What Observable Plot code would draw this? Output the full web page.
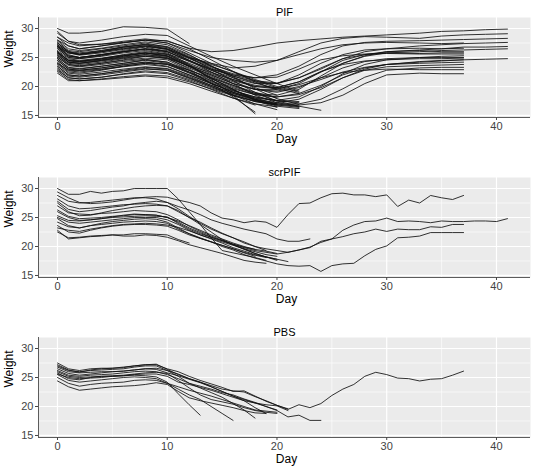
<!DOCTYPE html>
<html>
<head>
<meta charset="utf-8">
<script src="https://cdn.jsdelivr.net/npm/d3@7"></script>
<script src="https://cdn.jsdelivr.net/npm/@observablehq/plot@0.6"></script>
<style>
  html, body { margin: 0; padding: 0; background: white; }
  #chart svg { display: block; }
</style>
</head>
<body>
<div id="chart"></div>
<script>
// ---- data ----
const panelTitles = ["PIF", "scrPIF", "PBS"];
const xMajor = [0, 10, 20, 30, 40];
const xMinor = [5, 15, 25, 35];
const yMajor = [15, 20, 25, 30];
const yMinor = [17.5, 22.5, 27.5];

// PIF: weights sampled on these days
const pifDays = [0,1,2,4,6,8,10,12,14,16,18,20,22,24,26,28,30,33,35,37,39,41];
const pifWeights = [
  [28.5,27.5,27,27.3,27.8,28.2,27.8,26.6,26,26.2,26.8,27.5,27.9,28.2,28.5,28.7,28.9,29.2,29.5,29.6,29.8,29.9],
  [27.5,26,25.5,26,26.8,27.2,26.5,25,24,23.2,23.5,24.5,26,27.5,28.3,28.6,28.5,28.3,28.7,28.9,29,29.1],
  [26.8,25.2,25,25.5,26.2,26.8,26,24.5,23,22,21.5,22,23.5,25.5,27,27.6,27.8,27.9,28,28.1,28.2,28.3],
  [27,25.5,25,25.5,26,26.5,26.2,24.8,23.2,21.8,20.8,20.5,21.5,23,24.8,26,26.5,27,27.2,27.4,27.5,27.6],
  [25.5,24.2,24,24.5,25.2,25.8,25.2,23.5,22,20.5,19.5,19.5,20.5,22.5,24.5,25.5,26,26.3,26.5,26.8,26.8,26.9],
  [26,24.5,24.3,24.8,25.5,26,25.5,24,22.5,21,20,19.8,20.8,22.5,24,25.2,25.8,26,26.2,26.3,26.4,26.5],
  [24.5,23,22.8,23.2,23.8,24.2,23.8,22.5,21,19.6,18.6,18.2,18.8,20.2,22,23.2,23.8,24.2,24.4,24.6,24.7,24.8],
  [28,27,26.5,27,27.5,28,27.5,26.2,25,24.5,24.2,24.5,25.5,26.5,27.2,27.5,27.6,27.5,27.4,27.5],
  [26.5,25,24.8,25.3,26,26.5,26,24.3,22.8,21.5,20.5,20.5,22,24,25.5,26.3,26.5,26.6,26.5,26.6],
  [25,23.8,23.5,24,24.6,25.2,24.8,23.2,21.6,20,18.8,18.5,19.5,21.8,24,25.3,26,26.2,26,26],
  [27.5,26,25.8,26.2,26.8,27.2,26.7,25.2,23.5,22,21,20.6,21.5,23.2,24.8,25.5,25.7,25.6,25.6,25.6],
  [24,22.5,22.3,22.8,23.5,24,23.5,22,20.5,19,18,17.6,18.2,20,22.2,23.8,24.6,25,25.2,25.3],
  [26,24.5,24.3,24.8,25.3,25.8,25.3,23.8,22.2,20.8,19.5,19,19.8,21.5,23.2,24.3,24.8,25,25,25],
  [23.5,22,21.8,22.2,22.8,23.3,23,21.6,20.2,18.8,17.8,17.2,17.8,19.5,21.5,23,23.8,24.3,24.5,24.6],
  [25.8,24.2,24,24.5,25,25.5,25,23.5,22,20.5,19.5,19.2,20,21.2,22.5,23.3,23.8,24,24.1,24.2],
  [24.8,23.2,23,23.5,24,24.6,24.2,22.8,21.3,19.8,18.6,18.2,18.6,19.8,21.5,22.8,23.4,23.6,23.7,23.8],
  [22.8,21.5,21.3,21.6,22.2,22.7,22.4,21.2,19.8,18.5,17.5,17,17,17.8,19.6,21.6,22.8,23.2,23.3,23.3],
  [26.8,25.3,25,25.5,26,26.5,26,24.5,22.8,21.2,20,19.6,20.3,21.5,22.4,22.8,23,22.9,22.9,22.9],
  [23.2,21.8,21.6,22,22.5,23,22.8,21.4,20,18.6,17.4,16.8,16.8,17.2,18.5,20.5,22,22.3,22.2,22.2],
  [25.3,24,23.8,24.2,24.8,25.2,24.9,23.6,22.4,21.2,20.2,19.8,20.8,22.6,23.8,24.4,24.6,24.8,24.8,24.9],
  [27.2,25.8,25.4,25.8,26.4,26.9,26.4,24.9,23.4,22.2,21.5,21.6,23,24.6,25.3,25.6,25.8,25.7,25.8,25.8],
  [30,29.2,29.2,29.5,30.3,30.2,29.9,27.4],
  [29.2,27.8,27.5,28,28.6,29,28.8,27,25.2,23.5,22,20.5,19.2],
  [28.5,27,26.5,27,27.6,28,27.5,25.8,24,22.5,21,19.8],
  [28,26.5,26.2,26.6,27.2,27.7,27.2,25.5,23.5,21.5,19.8,18.5],
  [27.8,26.2,26,26.5,27,27.5,26.8,25,23,21,19,17.5],
  [27.2,25.8,25.5,26,26.6,27,26.4,24.5,22.5,20.5,18.5,17.2,16.6],
  [27,25.3,25,25.4,26,26.4,25.8,23.8,21.2,18.5,15.3],
  [26.6,25,24.8,25.2,25.8,26.2,25.6,23.6,21.4,19.5,17.8,16.6,16.2],
  [26.2,24.8,24.5,24.9,25.4,25.8,25.3,23.5,21.5,19.5,17.6,16.4],
  [26,24.4,24.2,24.6,25.1,25.5,25.2,23.4,21.8,20.2,18.8,17.5,16.6,15.9],
  [25.7,24.2,24,24.4,24.9,25.3,24.9,23,21,19.4,18,17,16.5],
  [25.4,23.8,23.6,24,24.5,24.9,24.6,22.8,20.5,18.2,15.6],
  [25.1,23.6,23.4,23.8,24.3,24.7,24.2,22.5,20.6,19,17.8,17],
  [24.8,23.3,23.1,23.5,24,24.5,24,22.4,20.8,19.3,18.2,17.5,17.2],
  [24.5,23,22.8,23.2,23.7,24.2,23.8,22.3,20.6,19,17.7,16.8],
  [24.2,22.7,22.5,22.9,23.4,23.8,23.4,22,20.5,19.2,18.2,17.6,17.4],
  [23.8,22.3,22.1,22.5,23,23.4,23.1,21.8,20.2,18.8,17.6,16.9],
  [23.5,22,21.8,22.2,22.7,23.1,22.8,21.5,20,18.5,17,16],
  [23,21.5,21.3,21.6,22.1,22.5,22.2,21,19.5,18,16.8],
  [22.6,21.2,21,21.3,21.7,22,21.8,20.8,19.6,18.4,17.4,16.8,16.4],
  [22.3,21,21,21.2,21.5,21.8,21.5,20.5,19.2,18,17,16.5],
  [27.5,26,25.6,26,26.5,27,26.5,25,23.8,22.6,21.2,20,19],
  [25.8,24.6,24.4,24.7,25.3,25.7,25.6,24.4,23,21.8,20.6,19.6,18.8],
  [24,22.8,22.7,23,23.5,24,23.9,22.8,21.5,20.2,19,18],
  [29.5,27.8,27.2,27.3,27.6,28,27.9,26.5,24.6,22.6,20.8,19.4],
  [26.9,25.8,25.6,26.2,26.8,27.3,26.9,25.4,23.6,21.7,19.6,17.9,16.9]
];

// scrPIF: daily weights from day 0
const scrWeights = [
  [30,29,29,29.5,29.2,29.5,29.6,30,30,30,30,28.2,26,23.8,21.5,19.3,18.9,18.5,18.1,17.6],
  [29.4,28.4,27.6,27.4,27.5,27.7,28,28.3,28.5,28.6,28.5,28,27.6,27,25.8,24.9,24.6,24.1,24.4,24.2,23.3,25.5,27.4,27.5,28.4,29.1,29.2,28.9,28.9,28.6,28.9,26.9,28,27.5,28.8,28.4,28.1,28.8],
  [28.2,27,26.5,26.6,26.8,27,27.2,27.3,27.4,27.3,27,26,25,24.2,23.2,22.3,21.5,20.6,20,19.6,19.3,19,19.4,19.9,20.7,21.3,22.8,23.7,24.3,24.4,24.9,24.3,24.4,24.3,24.1,24.4,24.3,24.3,24.4,24.4,24.3,24.8],
  [26.3,25.2,24.8,24.9,25,25.2,25.3,25.5,25.5,25.4,25,24.2,23.2,22.4,21.6,21,20.4,19.8,19.3,19,18.7,19,19.4,19.8,20.9,21.3,21.7,22.2,22.5,23,22.6,23,22.9,22.9,23.4,23.3,23.8,23.8],
  [24.2,23.4,23.2,23.6,23.8,24,24.2,24.3,24.4,24.3,24,23,22.2,21.4,20.8,20,19.4,18.6,18,17.5,17,16.7,16.6,16.7,15.7,16.7,17,17.1,18.4,19.5,20.1,21.5,21.6,21.8,22.4,22.4,22.4,22.4],
  [27.8,26.4,26,26.2,26.5,26.8,27,27.4,27.6,27.8,27.6,26.9,26.3,25.5,24.6,24,23.5,23,22.6,22.2,21.3,20.9,20.9,21.3],
  [28.8,27.8,27.5,27.6,27.8,28,28.2,28.4,28.4,28.2,27.6,26.5,25.2,24,23,22.2,21.5,20.8,20,19.3],
  [27.5,26,25.3,25.4,25.8,26.2,26.5,26.8,27,27.1,27,26.2,25,23.8,22.5,21.2,20.3,19.5,18.8,18.2,17.6],
  [25,24.2,24,24.2,24.4,24.6,24.8,25,25,25,24.6,23.8,22.8,22,21.3,20.6,19.8,19.2,18.6,18.2,17.8],
  [24.8,23.6,23.2,23.6,24,24.3,24.5,24.7,24.8,24.7,24.2,23.2,22.2,21.5,20.8,20.2,19.6,19,18.5,18.1],
  [25.3,24.5,24.4,24.6,24.8,25.1,25.4,25.6,25.5,25.4,25,24.4,23.6,22.8,22,21.3,20.6,20,19.5,19.2,18.8],
  [23.6,22.5,22.3,22.8,23.2,23.5,23.7,23.8,23.8,23.7,23.5,22.8,22,21.4,20.8,20.2,19.6,18.9,18.3],
  [22.8,21.3,21.5,21.7,21.8,22,22,22.2,22.2,22.1,22,21.2,20.6],
  [22.5,21.5,21.6,21.8,21.9,22,21.8,21.8,22,21.9,21.6,21,20.3,19.8,19.3,18.8,18.2,17.6,17.3,17.1],
  [26,25,24.5,24.6,24.8,25,25.1,25.2,25.3,25.2,25.1,24,23,22.2,21.6,21,20.3,19.6,18.8,18.2,17.8,17.4],
  [23.2,22.8,22.6,23,23.3,23.6,23.8,23.9,24,23.9,23.7,23.3,22.7,22,21.4,20.8,20.2,19.6,19.1,18.6,18.3],
  [27,25.8,25.6,25.5,25.7,25.8,26,26.2,26.1,26,25.5,24.6,23.5,22.6,21.8,21.1,20.4,19.9,19.5]
];

// PBS: daily weights from day 0
const pbsWeights = [
  [26.8,26,25.8,25.9,26,26,26.1,26.3,26.5,26.6,26.2,25.6,24.8,24.2,23.6,23,22.7,22.5,21.7,21,20.2,19.5,20.3,19.8,20.5,21.9,23,23.8,25.2,25.9,25.5,24.9,24.8,24.4,24.7,24.8,25.4,26.1],
  [26.2,25.4,25.2,25.4,25.5,25.6,25.8,26,26.1,26,25.5,24.8,24,23.5,23,22.4,22,21.3,20.7,20,19.3,18.2,18.5,17.6,17.6],
  [25.6,25,24.8,24.9,25,25.2,25.3,25.4,25.3,25.1,24.2,22.2,20.3,18.5],
  [25.5,24.5,24.2,24.4,24.6,24.8,25,25.1,25,24.8,24,23,22,21.2,20,18.8,17.6],
  [27,26.2,26,26.2,26.3,26.4,26.5,26.8,27,27,26.2,25.2,24,23.2,22.4,21.6,20.5,19.4,18],
  [26.5,25.7,25.4,25.6,25.8,26,26.1,26.3,26.5,26.4,25.8,25.3,24.7,24.1,23.4,22.6,21.8,21,19.8,18.8],
  [27.5,26.5,26.2,26.5,26.6,26.6,26.7,27,27.2,27.2,26.5,26,25.2,24.5,23.9,23.3,22.6,22.7,21.8,20.9,20.2,19.6],
  [25,24,23.5,23.8,24,24.1,24.2,24.5,24.6,24.5,24,23.4,22.8,22.3,21.8,21.2,20.6,20,19.4,19.2,19],
  [24.4,23.4,22.8,23,23.2,23.4,23.5,23.6,23.8,24.1,23.8,22.6,21.5,21,20.6,20.2,19.8,19.3,18.9,18.8],
  [26,25.2,25,25.1,25.2,25.3,25.4,25.6,25.8,25.9,25.7,24.5,23.2,22,21.2,20.8,20.4,19.8,19.3,19,18.8],
  [27.2,26.3,25.9,26.3,26.5,26.6,26.8,27,27.2,27.3,26.4,25.5,24.8,24.2,23.4,22.6,21.8,21.2,20.6,20,19.4],
  [25.8,24.8,24.6,25,25.2,25.2,25.3,25.5,25.6,25.6,25.2,24.2,23.8,23.3,22.8,22.2,21.6,21,20.6,20.3,20.1,19.3]
];

// ---- build ----
function toRows(days, series) {
  return series.flatMap((s, i) => s.map((w, j) => ({id: i, day: days ? days[j] : j, w})));
}
const panels = [
  {title: panelTitles[0], rows: toRows(pifDays, pifWeights)},
  {title: panelTitles[1], rows: toRows(null, scrWeights)},
  {title: panelTitles[2], rows: toRows(null, pbsWeights)}
];

const xDom = [-1.73, 43.1];
const yDom = [14.65, 31.9];
const font = "Liberation Sans, Arial, Helvetica, sans-serif";
const chart = document.getElementById("chart");

panels.forEach((p, k) => {
  const last = k === panels.length - 1;
  const svg = Plot.plot({
    width: 550,
    height: last ? 149 : 160,
    marginLeft: 38,
    marginRight: 20,
    marginTop: 17,
    marginBottom: last ? 32 : 43,
    x: {domain: xDom},
    y: {domain: yDom},
    style: {fontFamily: font, fontSize: "11px", background: "white", color: "black"},
    marks: [
      Plot.frame({fill: "#ebebeb", stroke: null}),
      Plot.ruleX(xMinor, {stroke: "white", strokeWidth: 0.6}),
      Plot.ruleY(yMinor, {stroke: "white", strokeWidth: 0.6}),
      Plot.ruleX(xMajor, {stroke: "white", strokeWidth: 1.2}),
      Plot.ruleY(yMajor, {stroke: "white", strokeWidth: 1.2}),
      Plot.line(p.rows, {x: "day", y: "w", z: "id", stroke: "#111", strokeOpacity: 0.85, strokeWidth: 1}),
      Plot.ruleY([yDom[0]], {stroke: "#333", strokeWidth: 0.8}),
      Plot.ruleX([xDom[0]], {stroke: "#333", strokeWidth: 0.8}),
      Plot.axisX({ticks: xMajor, tickSize: 3, tickPadding: 2, label: null, color: "#444", fontSize: 11}),
      Plot.axisY({ticks: yMajor, tickSize: 3, tickPadding: 2, label: null, color: "#444", fontSize: 11}),
      Plot.text([p.title], {frameAnchor: "top", dy: -9, fontSize: 11, fill: "black"}),
      Plot.text(["Day"], {frameAnchor: "bottom", dx: 2, dy: 25, fontSize: 12, fill: "black"}),
      Plot.text(["Weight"], {frameAnchor: "left", dx: -29, rotate: -90, fontSize: 12, fill: "black"})
    ]
  });
  chart.appendChild(svg);
});
</script>
</body>
</html>
